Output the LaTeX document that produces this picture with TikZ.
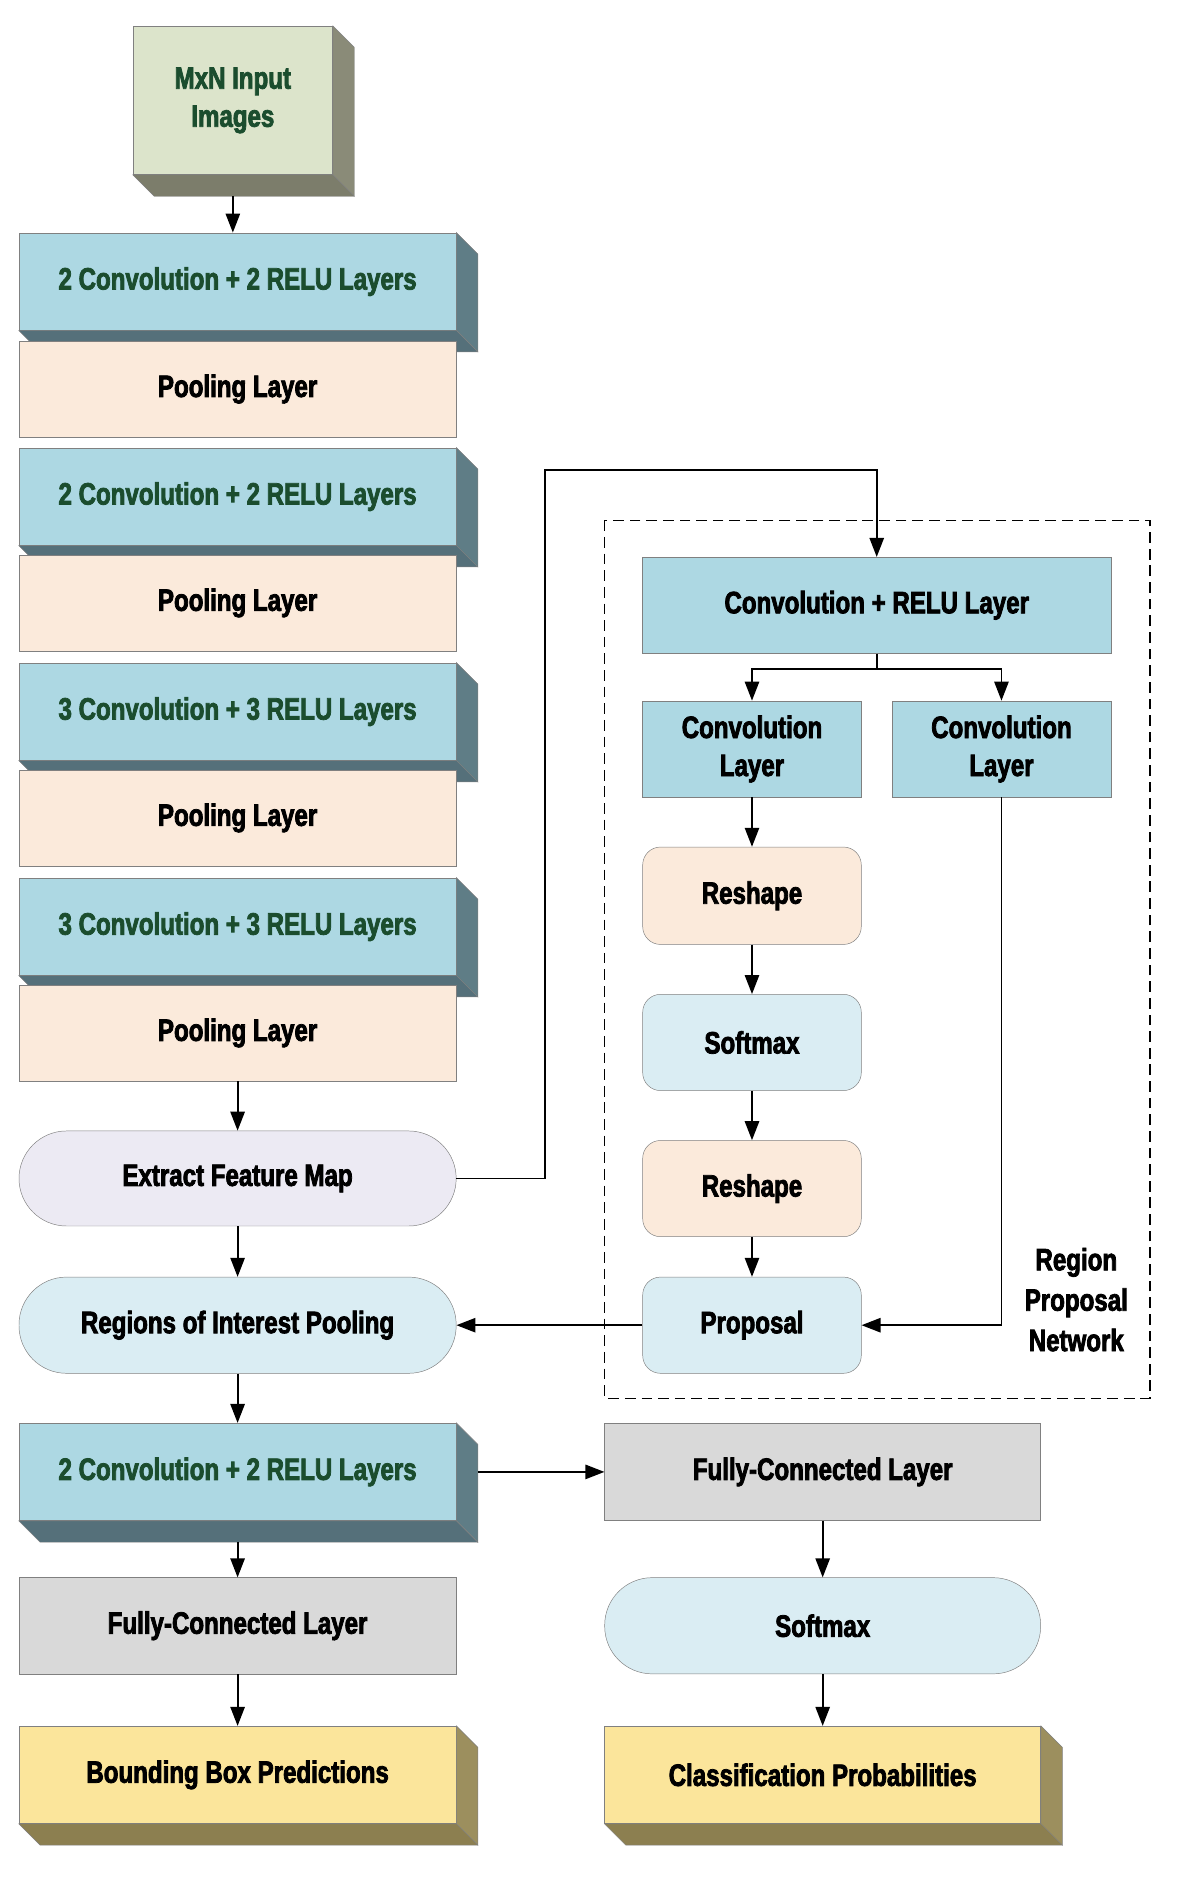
\documentclass[tikz,border=0pt]{standalone}
\usepackage{fontspec}
\setmainfont{Liberation Sans}[FakeStretch=0.78,BoldFeatures={FakeBold=2.5}]
\usetikzlibrary{arrows.meta}
\definecolor{bl}{HTML}{ADD8E3}\definecolor{blS}{HTML}{5F7D86}\definecolor{blB}{HTML}{55707A}
\definecolor{pk}{HTML}{FBEADB}\definecolor{gr}{HTML}{DCE4CB}\definecolor{grS}{HTML}{8A8B78}\definecolor{grB}{HTML}{7C7D6B}
\definecolor{ye}{HTML}{FBE59B}\definecolor{yeS}{HTML}{9C8F5E}\definecolor{yeB}{HTML}{8C7F50}
\definecolor{gy}{HTML}{D9D9D9}\definecolor{lb}{HTML}{DAEDF3}\definecolor{lv}{HTML}{ECEAF3}
\definecolor{dg}{HTML}{1B4D2E}\definecolor{ln}{HTML}{808080}
\newcommand\blk[7]{\node[#6,minimum width=#4pt,minimum height=#5pt] (#1) at (#2,-#3) {#7};}
\newcommand\sides[3]{% name, sidecolor, bottomcolor
 \fill[#2,draw=ln] (#1.north east) -- ([shift={(18,-18)}]#1.north east) -- ([shift={(18,-18)}]#1.south east) -- (#1.south east) -- cycle;
 \fill[#3,draw=ln] (#1.south west) -- ([shift={(18,-18)}]#1.south west) -- ([shift={(18,-18)}]#1.south east) -- (#1.south east) -- cycle;}
\begin{document}
\begin{tikzpicture}[x=1pt,y=1pt,
 box/.style={draw=ln,inner sep=2pt,align=center,font=\fontsize{26}{32}\selectfont\bfseries},
 cv/.style={box,fill=bl,text=dg},
 pl/.style={box,fill=pk},
 rr/.style={box,rounded corners=15pt},
 pill/.style={box,rounded corners=40pt},
 ar/.style={-{Triangle[length=16pt,width=12pt]},line width=1.6pt}]
\useasboundingbox (0,0) rectangle (1000,-1580);
\blk{in}{196}{84.5}{168}{125}{box,fill=gr,text=dg}{MxN Input\\Images}\sides{in}{grS}{grB}
\foreach \n/\y/\t in {c1/237/2 Convolution + 2 RELU Layers,c2/418/2 Convolution + 2 RELU Layers,c3/599/3 Convolution + 3 RELU Layers,c4/780/3 Convolution + 3 RELU Layers}{
 \blk{\n}{200}{\y}{368}{82}{cv}{\t}\sides{\n}{blS}{blB}}
\blk{p1}{200}{327.5}{368}{81}{pl}{Pooling Layer}
\blk{p2}{200}{507.5}{368}{81}{pl}{Pooling Layer}
\blk{p3}{200}{688.5}{368}{81}{pl}{Pooling Layer}
\blk{p4}{200}{869.5}{368}{81}{pl}{Pooling Layer}
\blk{ef}{200}{992}{368}{80}{pill,fill=lv}{Extract Feature Map}
\blk{roi}{200}{1115.5}{368}{81}{pill,fill=lb}{Regions of Interest Pooling}
\blk{c5}{200}{1239}{368}{82}{cv}{2 Convolution + 2 RELU Layers}\sides{c5}{blS}{blB}
\blk{fc1}{200}{1368.5}{368}{81}{box,fill=gy}{Fully-Connected Layer}
\blk{bb}{200}{1494}{368}{82}{box,fill=ye}{Bounding Box Predictions}\sides{bb}{yeS}{yeB}
\blk{fc2}{692.5}{1239}{367}{82}{box,fill=gy}{Fully-Connected Layer}
\blk{sm2}{692.5}{1368.5}{367}{81}{pill,fill=lb}{Softmax}
\blk{cp}{692.5}{1494}{367}{82}{box,fill=ye}{Classification Probabilities}\sides{cp}{yeS}{yeB}
\draw[dash pattern=on 9pt off 5pt,line width=1.2pt] (509,-438) rectangle (968,-1177);
\blk{cr}{738}{509.5}{394}{81}{cv,text=black}{Convolution + RELU Layer}
\blk{cl1}{633}{630.5}{184}{81}{cv,text=black}{Convolution\\Layer}
\blk{cl2}{843}{630.5}{184}{81}{cv,text=black}{Convolution\\Layer}
\blk{rs1}{633}{754}{184}{82}{rr,fill=pk}{Reshape}
\blk{sm1}{633}{877.5}{184}{81}{rr,fill=lb}{Softmax}
\blk{rs2}{633}{1000.5}{184}{81}{rr,fill=pk}{Reshape}
\blk{pr}{633}{1115.5}{184}{81}{rr,fill=lb}{Proposal}
\node[align=center,font=\fontsize{26}{34}\selectfont\bfseries] (rpn) at (906,-1094) {Region\\Proposal\\Network};
\draw[ar] (in.south) ++(0,-18) -- (c1.north -| in.south);
\draw[ar] (p4) -- (ef);
\draw[ar] (ef) -- (roi);
\draw[ar] (roi) -- (c5);
\draw[ar] ([yshift=-18]c5.south) -- (fc1);
\draw[ar] (fc1) -- (bb);
\draw[ar] ([xshift=18]c5.east) -- (fc2);
\draw[ar] (fc2) -- (sm2);
\draw[ar] (sm2) -- (cp);
\draw[ar] (ef.east) -| (459,-396) -| (cr.north);
\coordinate (sp) at (738,-563);
\draw[line width=1.6pt] (cr.south) -- (sp);
\draw[ar] (sp) -| (cl1.north);
\draw[ar] (sp) -| (cl2.north);
\draw[ar] (cl1) -- (rs1);
\draw[ar] (rs1) -- (sm1);
\draw[ar] (sm1) -- (rs2);
\draw[ar] (rs2) -- (pr);
\draw[ar] (cl2.south) |- (pr.east);
\draw[ar] (pr.west) -- (roi.east);
\end{tikzpicture}
\end{document}
